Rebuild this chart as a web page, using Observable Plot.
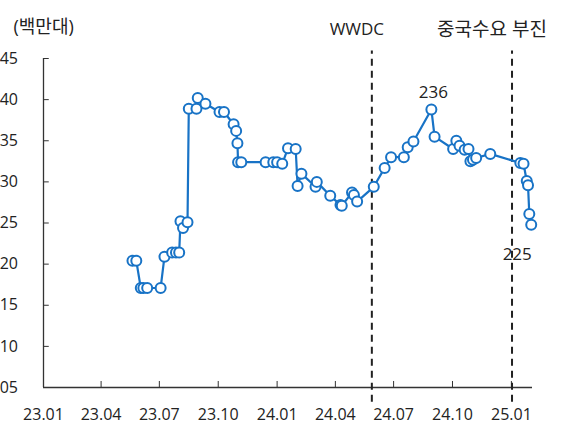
<!DOCTYPE html>
<html>
<head>
<meta charset="utf-8">
<script src="https://cdn.jsdelivr.net/npm/d3@7"></script>
<script src="https://cdn.jsdelivr.net/npm/@observablehq/plot@0.6"></script>
<style>
  body { margin: 0; background: #fff; }
  #chart svg { display: block; overflow: hidden; }
</style>
</head>
<body>
<div id="chart"></div>
<script>
// ---- data ----
const dates = [
  "2023-05-20","2023-05-26","2023-06-02","2023-06-06","2023-06-12","2023-07-03","2023-07-09","2023-07-21",
  "2023-07-27","2023-08-01","2023-08-03","2023-08-07","2023-08-14","2023-08-16","2023-08-28","2023-08-30",
  "2023-09-11","2023-10-03","2023-10-10","2023-10-25","2023-10-29","2023-10-31","2023-11-01","2023-11-06",
  "2023-12-14","2023-12-26","2024-01-01","2024-01-09","2024-01-18","2024-01-30","2024-02-02","2024-02-08",
  "2024-03-01","2024-03-03","2024-03-24","2024-04-09","2024-04-11","2024-04-27","2024-04-30","2024-05-05",
  "2024-05-31","2024-06-17","2024-06-27","2024-07-17","2024-07-23","2024-08-01","2024-08-29","2024-09-03",
  "2024-10-02","2024-10-07","2024-10-12","2024-10-20","2024-10-26","2024-10-29","2024-11-02","2024-11-07",
  "2024-11-29","2025-01-15","2025-01-20","2025-01-25","2025-01-27","2025-01-29","2025-02-01"
];
const values = [
  220.4,220.4,217.1,217.1,217.1,217.1,220.9,221.4,
  221.4,221.4,225.2,224.4,225.1,238.9,238.9,240.2,
  239.5,238.5,238.5,237.0,236.2,234.7,232.4,232.4,
  232.4,232.4,232.4,232.2,234.1,234.0,229.5,231.0,
  229.4,230.0,228.3,227.2,227.1,228.7,228.4,227.6,
  229.4,231.7,233.0,233.0,234.2,234.9,238.8,235.5,
  234.0,235.0,234.4,233.9,234.0,232.5,232.7,232.9,
  233.4,232.3,232.2,230.1,229.6,226.1,224.8
];
const xTickDates = ["2023-01-01","2023-04-01","2023-07-01","2023-10-01","2024-01-01","2024-04-01","2024-07-01","2024-10-01","2025-01-01"];
const yTicks = [205,210,215,220,225,230,235,240,245];
const xDomainDates = ["2023-01-01","2025-02-03"];
const yDomain = [205,245];
const eventDates = ["2024-05-28","2025-01-02"];
const eventLabels = ["WWDC","중국수요 부진"];
const annoDates = ["2024-08-29","2025-02-01"];
const annoValues = [238.8,224.8];
const annoLabels = ["236","225"];
const unitLabel = "(백만대)";

// ---- build ----
const parse = d3.utcParse("%Y-%m-%d");
const data = dates.map((d, i) => ({date: parse(d), value: values[i]}));
const xTicks = xTickDates.map(parse);
const xDomain = xDomainDates.map(parse);
const events = eventDates.map((d, i) => ({date: parse(d), label: eventLabels[i]}));
const annos = annoDates.map((d, i) => ({date: parse(d), value: annoValues[i], label: annoLabels[i]}));

const blue = "#1873c6";
const axisColor = "#333";
const textColor = "#222";

const chart = Plot.plot({
  width: 561,
  height: 423,
  marginLeft: 43,
  marginRight: 29,
  marginTop: 58,
  marginBottom: 36,
  style: {fontFamily: "'Open Sans', 'Noto Sans CJK KR', sans-serif", fontSize: "16px", color: textColor, background: "white", overflow: "hidden"},
  x: {type: "utc", domain: xDomain, label: null},
  y: {domain: yDomain, label: null},
  marks: [
    // axis lines
    Plot.ruleX([xDomain[0]], {stroke: axisColor, strokeWidth: 1.3}),
    Plot.ruleY([yDomain[0]], {stroke: axisColor, strokeWidth: 1.3}),
    // inward ticks
    Plot.ruleY(yTicks, {y: d => d, x1: xDomain[0], x2: d3.utcDay.offset(xDomain[0], 9), stroke: axisColor}),
    Plot.ruleX(xTicks, {x: d => d, y1: yDomain[0], y2: yDomain[0] + 0.73, stroke: axisColor}),
    // tick labels
    Plot.axisY(yTicks, {tickSize: 0, tickPadding: 25.5, tickFormat: d => String(d), fill: textColor, label: null}),
    Plot.axisX(xTicks, {tickSize: 0, tickPadding: 21, tickFormat: d3.utcFormat("%y.%m"), fill: textColor, label: null}),
    // event lines
    Plot.ruleX(events, {x: "date", y1: 203.2, y2: 245.9, stroke: "#222", strokeWidth: 2, strokeDasharray: "7,5"}),
    Plot.text([events[0]], {x: "date", text: "label", frameAnchor: "top", dy: -36, dx: -15, fill: textColor, fontSize: 17}),
    Plot.text([events[1]], {x: "date", text: "label", frameAnchor: "top", dy: -36, dx: -20, fill: textColor, fontSize: 19}),
    // series
    Plot.line(data, {x: "date", y: "value", stroke: blue, strokeWidth: 2.2}),
    Plot.dot(data, {x: "date", y: "value", r: 5, fill: "white", stroke: blue, strokeWidth: 2}),
    // annotations
    Plot.text([annos[0]], {x: "date", y: "value", text: "label", dy: -17, dx: 2, fill: textColor, fontSize: 17}),
    Plot.text([annos[1]], {x: "date", y: "value", text: "label", dy: 30, dx: -14, fill: textColor, fontSize: 17}),
    // unit label
    Plot.text([unitLabel], {frameAnchor: "top-left", dx: -30, dy: -38, textAnchor: "start", fill: textColor, fontSize: 18})
  ]
});
document.getElementById("chart").appendChild(chart);
</script>
</body>
</html>
